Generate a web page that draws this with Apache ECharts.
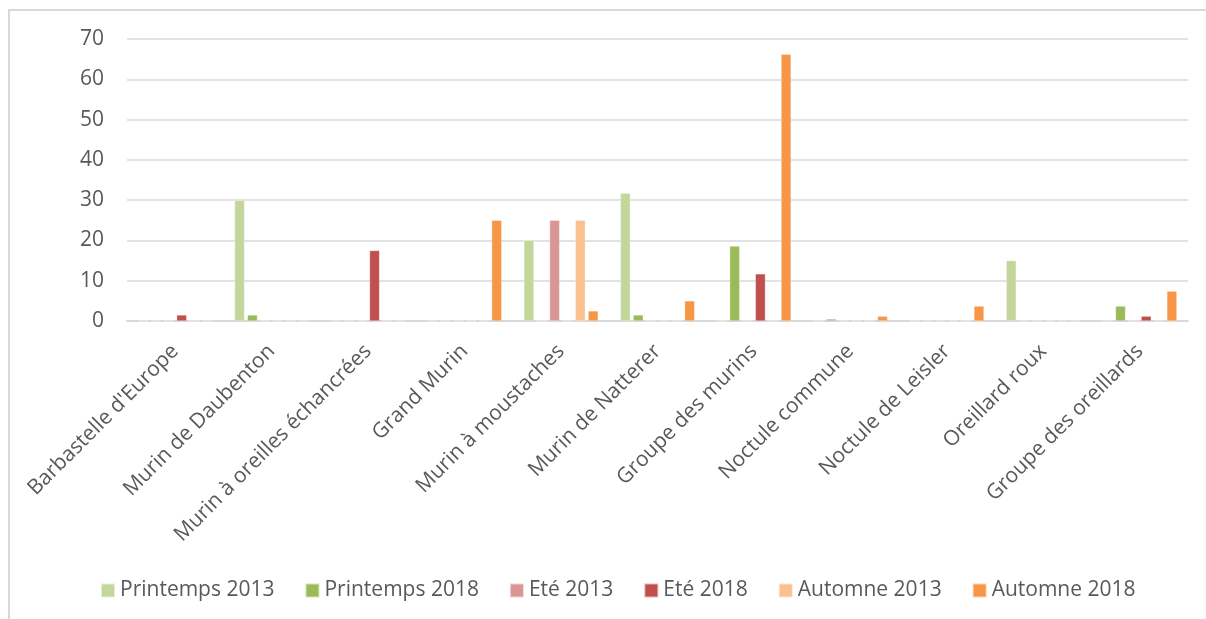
<!DOCTYPE html>
<html>
<head>
<meta charset="utf-8">
<script src="https://cdn.jsdelivr.net/npm/echarts@6/dist/echarts.min.js"></script>
<style>
  html, body { margin: 0; padding: 0; background: #fff; }
  #frame { position: absolute; left: 8px; top: 9px; width: 1198px; height: 610px;
           border-left: 2px solid #d9d9d9; border-top: 2px solid #d9d9d9; box-sizing: border-box; }
  #chart { position: absolute; left: 0; top: 0; width: 1206px; height: 619px; }
</style>
</head>
<body>
<div id="frame"></div>
<div id="chart"></div>
<script>
// Espèces de chiroptères contactées, par saison et par année
const categories = [
  "Barbastelle d'Europe", "Murin de Daubenton", "Murin à oreilles échancrées",
  "Grand Murin", "Murin à moustaches", "Murin de Natterer", "Groupe des murins",
  "Noctule commune", "Noctule de Leisler", "Oreillard roux", "Groupe des oreillards"
];
const seriesNames = ["Printemps 2013", "Printemps 2018", "Eté 2013", "Eté 2018", "Automne 2013", "Automne 2018"];
const printemps2013 = [0, 30, 0, 0, 20, 31.7, 0, 0, 0, 15, 0];
const printemps2018 = [0, 1.5, 0, 0, 0, 1.5, 18.6, 0.5, 0, 0, 3.7];
const ete2013       = [0, 0, 0, 0, 25, 0, 0, 0, 0, 0, 0];
const ete2018       = [1.5, 0, 17.5, 0, 0, 0, 11.7, 0, 0, 0, 1.2];
const automne2013   = [0, 0, 0, 0, 25, 0, 0, 0, 0, 0, 0];
const automne2018   = [0, 0, 0, 25, 2.5, 5, 66.2, 1.2, 3.7, 0, 7.4];
const yTicks = [0, 10, 20, 30, 40, 50, 60, 70];

const values = [printemps2013, printemps2018, ete2013, ete2018, automne2013, automne2018];
const colors = ["#c4d79b", "#9bbb59", "#d99694", "#c0504d", "#fac090", "#f79646"];

const chart = echarts.init(document.getElementById('chart'));
chart.setOption({
  animation: false,
  color: colors,
  textStyle: { fontFamily: "Open Sans", color: "#595959" },
  grid: { left: 127, right: 18, top: 39, bottom: 298, containLabel: false },
  legend: {
    data: seriesNames,
    bottom: 13,
    left: 95,
    itemWidth: 14,
    itemHeight: 14,
    itemGap: 30,
    icon: 'rect',
    textStyle: { fontSize: 21, color: "#595959", fontFamily: "Open Sans" }
  },
  xAxis: {
    type: 'category',
    data: categories,
    axisLine: { lineStyle: { color: "#d9d9d9", width: 2 } },
    axisTick: { show: false },
    axisLabel: { rotate: 45, fontSize: 21, color: "#595959", margin: 27, interval: 0 }
  },
  yAxis: {
    type: 'value',
    min: yTicks[0],
    max: yTicks[yTicks.length - 1],
    interval: 10,
    axisLine: { show: false },
    axisTick: { show: false },
    axisLabel: { fontSize: 21, color: "#595959", margin: 23 },
    splitLine: { lineStyle: { color: "#d9d9d9", width: 1.5 } }
  },
  series: seriesNames.map((name, i) => ({
    name: name,
    type: 'bar',
    data: values[i],
    barGap: '28%',
    barCategoryGap: '23%',
    itemStyle: { color: colors[i], borderColor: "rgba(255,255,255,0.6)", borderWidth: 0.5 }
  }))
});
</script>
</body>
</html>
